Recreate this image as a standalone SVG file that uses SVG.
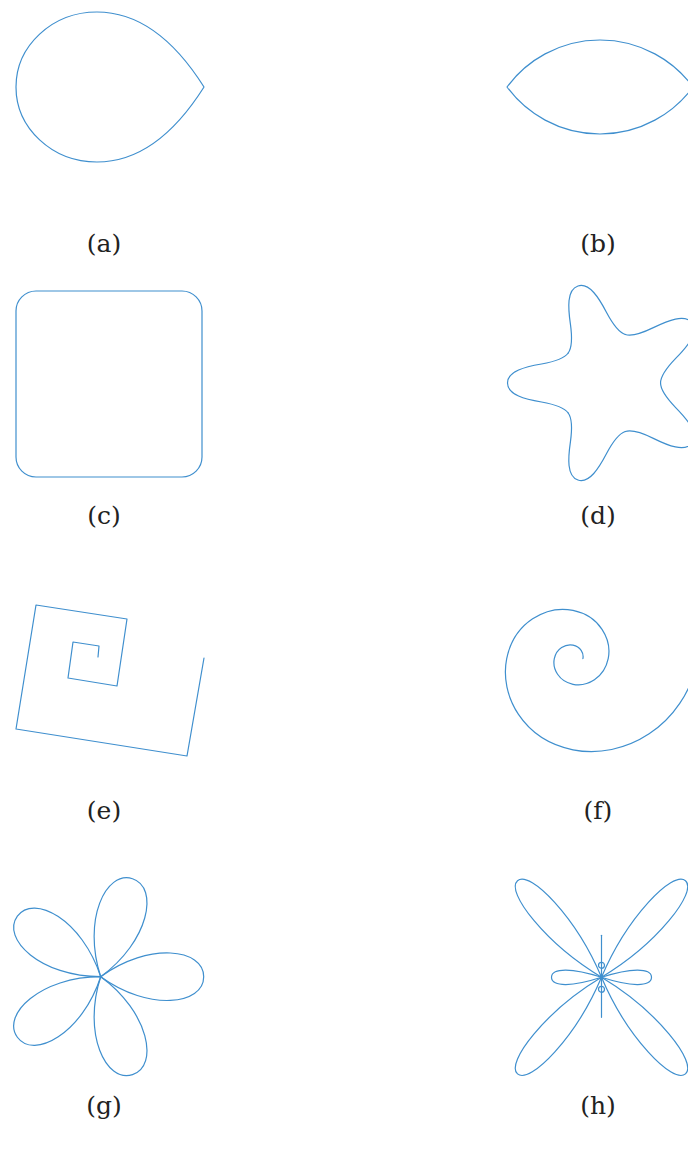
<svg xmlns="http://www.w3.org/2000/svg" xmlns:xlink="http://www.w3.org/1999/xlink" width="688" height="1155" viewBox="0 0 688 1155">
<style>
.c{fill:none;stroke:#3f8fce;stroke-width:1.2;stroke-linejoin:round;stroke-linecap:round}
.l{font-family:"DejaVu Serif","Liberation Serif",serif;font-size:25px;fill:#222;text-anchor:middle}
</style>
<defs>
<path id="arm" d="M41.3,-30 C46,-23.5 60.1,-20.4 68,-19 C83.8,-16.3 102,-12 102,0 C102,12 83.8,16.3 68,19 C60.1,20.4 46,23.5 41.3,30"/>
<path id="petal" d="M0,0 C48.5,-35.2 103,-28 103,0 C103,28 48.5,35.2 0,0Z"/>
<path id="bigpetal" d="M0,0 C62,-20.2 128,-16.5 128,0 C128,16.5 62,20.2 0,0Z"/>
<path id="smallpetal" d="M0,0 C28.5,-9.3 50,-10 50,0 C50,10 28.5,9.3 0,0Z"/>
</defs>
<rect width="688" height="1155" fill="#fff"/>
<g id="a">
<path class="c" d="M204,87 C192,68 155,12 97,12 C52,12 16,46 16,87 C16,128 52,162 97,162 C155,162 192,106 204,87Z"/>
<text class="l" x="104" y="252">(a)</text>
</g>
<g id="b">
<path class="c" d="M507,87 A115.5,115.5 0 0 1 693,87 A115.5,115.5 0 0 1 507,87Z"/>
<text class="l" x="598" y="252">(b)</text>
</g>
<g id="c">
<rect class="c" x="16" y="291" width="186" height="186" rx="20" ry="20"/>
<text class="l" x="104" y="524">(c)</text>
</g>
<g id="d">
<g class="c" transform="translate(609.5,383)">
<use xlink:href="#arm" transform="rotate(36)"/>
<use xlink:href="#arm" transform="rotate(108)"/>
<use xlink:href="#arm" transform="rotate(180)"/>
<use xlink:href="#arm" transform="rotate(252)"/>
<use xlink:href="#arm" transform="rotate(324)"/>
</g>
<text class="l" x="598" y="524">(d)</text>
</g>
<g id="e">
<polyline class="c" points="204,658 187,756 16,729 36,605 127,619 117,686 68,678 73,642 99,646 98,657"/>
<text class="l" x="104" y="819">(e)</text>
</g>
<g id="f">
<path class="c" d="M582.9,658.7 C584,653.25 580.47,646.61 573,645.1 C565.53,643.59 556.37,648.44 554.3,658.7 C552.23,668.96 558.9,681.46 573,684.3 C587.1,687.14 604.29,678.05 608.2,658.7 C612.11,639.35 599.57,615.76 573,610.4 C546.43,605.04 514.06,622.22 506.7,658.7 C499.34,695.18 522.91,739.69 573,749.8 C623.09,759.91 684.22,727.48 698.1,658.7"/>
<text class="l" x="598" y="819">(f)</text>
</g>
<g id="g">
<g class="c" transform="translate(100.7,976.7)">
<use xlink:href="#petal"/>
<use xlink:href="#petal" transform="rotate(72)"/>
<use xlink:href="#petal" transform="rotate(144)"/>
<use xlink:href="#petal" transform="rotate(216)"/>
<use xlink:href="#petal" transform="rotate(288)"/>
</g>
<text class="l" x="104" y="1114">(g)</text>
</g>
<g id="h">
<g class="c" transform="translate(601.5,977.3)">
<use xlink:href="#bigpetal" transform="rotate(-49)"/>
<use xlink:href="#bigpetal" transform="rotate(49)"/>
<use xlink:href="#bigpetal" transform="rotate(131)"/>
<use xlink:href="#bigpetal" transform="rotate(-131)"/>
<use xlink:href="#smallpetal"/>
<use xlink:href="#smallpetal" transform="rotate(180)"/>
<line x1="0" y1="-42" x2="0" y2="40"/>
<circle cx="0" cy="-12" r="3"/>
<circle cx="0" cy="12" r="3"/>
</g>
<text class="l" x="598" y="1114">(h)</text>
</g>
</svg>
